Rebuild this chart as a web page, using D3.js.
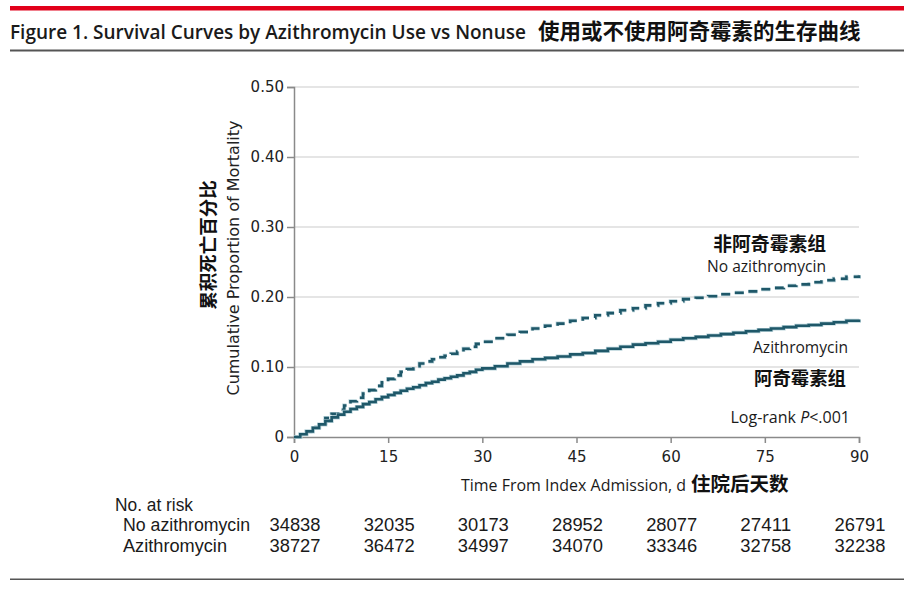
<!DOCTYPE html>
<html>
<head>
<meta charset="utf-8">
<script src="https://cdn.jsdelivr.net/npm/d3@7"></script>
<style>
  html, body { margin: 0; padding: 0; background: #fff; }
  svg { display: block; }
  .cond { font-family: "Open Sans", "DejaVu Sans", sans-serif; }
  .table { font-family: "Liberation Sans", Arial, sans-serif; }
  .cjk { font-family: "Noto Sans CJK SC", sans-serif; font-weight: 700; }
  .tick text { font-family: "DejaVu Sans", sans-serif; }
</style>
</head>
<body>
<svg id="chart" width="914" height="591"></svg>
<script>
// Days at which the curves are read (daily to day 30, then every 2 days)
const days = [0, 1, 2, 3, 4, 5, 6, 7, 8, 9, 10, 11, 12, 13, 14, 15, 16, 17, 18, 19, 20, 21, 22, 23, 24,
  25, 26, 27, 28, 29, 30, 32, 34, 36, 38, 40, 42, 44, 46, 48, 50, 52, 54, 56, 58, 60, 62, 64, 66, 68,
  70, 72, 74, 76, 78, 80, 82, 84, 86, 88, 90];

// Cumulative proportion of mortality, no azithromycin (dashed)
const noAzithro = [0, 0.003, 0.008, 0.014, 0.020, 0.027, 0.033, 0.039, 0.045, 0.051, 0.056, 0.062,
  0.067, 0.073, 0.078, 0.083, 0.088, 0.093, 0.097, 0.101, 0.105, 0.108, 0.111, 0.114, 0.116, 0.119,
  0.122, 0.126, 0.129, 0.133, 0.136, 0.141, 0.146, 0.150, 0.155, 0.159, 0.162, 0.166, 0.170, 0.174,
  0.177, 0.181, 0.184, 0.188, 0.191, 0.194, 0.197, 0.199, 0.201, 0.204, 0.206, 0.208, 0.211, 0.213,
  0.216, 0.218, 0.221, 0.224, 0.226, 0.229, 0.231];

// Cumulative proportion of mortality, azithromycin (solid)
const azithro = [0, 0.004, 0.008, 0.013, 0.018, 0.023, 0.028, 0.032, 0.036, 0.040, 0.043, 0.047,
  0.050, 0.054, 0.057, 0.060, 0.063, 0.066, 0.069, 0.071, 0.074, 0.077, 0.079, 0.082, 0.084, 0.086,
  0.088, 0.091, 0.093, 0.096, 0.098, 0.101, 0.105, 0.108, 0.111, 0.113, 0.115, 0.118, 0.120, 0.123,
  0.126, 0.129, 0.132, 0.134, 0.136, 0.139, 0.141, 0.143, 0.145, 0.147, 0.149, 0.151, 0.153, 0.155,
  0.157, 0.159, 0.160, 0.162, 0.164, 0.166, 0.168];

// Axis ticks
const xTicks = [0, 15, 30, 45, 60, 75, 90];
const yTicks = [0, 0.1, 0.2, 0.3, 0.4, 0.5];

// Number at risk table
const riskRows = ['No azithromycin', 'Azithromycin'];
const riskNoAzithro = [34838, 32035, 30173, 28952, 28077, 27411, 26791];
const riskAzithro = [38727, 36472, 34997, 34070, 33346, 32758, 32238];

const curveColor = '#1f5869';
const haloColor = '#b9d3da';

const svg = d3.select('#chart');

// Scales
const x = d3.scaleLinear().domain([0, 90]).range([294, 859]);
const y = d3.scaleLinear().domain([0, 0.5]).range([437, 87]);

// Narrow text: a regular face squeezed to the width measured on the figure
function condText(txt, xPos, yPos, size, len, anchor, cls, parent) {
  const t = (parent || svg).append('text')
    .attr('class', cls || 'cond')
    .attr('x', xPos)
    .attr('y', yPos)
    .attr('font-size', size)
    .attr('text-anchor', anchor || 'start')
    .attr('fill', '#1a1a1a')
    .text(txt);
  if (len) t.attr('textLength', len).attr('lengthAdjust', 'spacingAndGlyphs');
  return t;
}

function cjkText(txt, xPos, yPos, size, anchor) {
  return svg.append('text')
    .attr('class', 'cjk')
    .attr('x', xPos)
    .attr('y', yPos)
    .attr('font-size', size)
    .attr('text-anchor', anchor || 'start')
    .attr('fill', '#111')
    .text(txt);
}

// Header rules and title
svg.append('rect').attr('x', 10).attr('y', 6).attr('width', 894).attr('height', 4.5).attr('fill', '#e2001a');
svg.append('rect').attr('x', 10).attr('y', 49.5).attr('width', 894).attr('height', 2).attr('fill', '#555');
svg.append('rect').attr('x', 10).attr('y', 578.5).attr('width', 894).attr('height', 1.5).attr('fill', '#555');

// title: shrink the font until the English part ends where it does in the figure
const titleEn = condText('Figure 1. Survival Curves by Azithromycin Use vs Nonuse', 10, 39, 21, null)
  .attr('font-weight', 600);
const natural = titleEn.node().getComputedTextLength();
if (natural > 516) titleEn.attr('font-size', 21 * 516 / natural);
cjkText('使用或不使用阿奇霉素的生存曲线', 538, 39, 21.5);

// Gridlines
svg.append('g')
  .selectAll('line')
  .data(yTicks.filter(d => d > 0))
  .enter()
  .append('line')
  .attr('x1', x(0))
  .attr('x2', x(90))
  .attr('y1', d => y(d))
  .attr('y2', d => y(d))
  .attr('stroke', '#dcdcdc')
  .attr('stroke-width', 1.5);

// Y axis
const yAxis = svg.append('g')
  .attr('transform', `translate(${x(0)},0)`)
  .call(d3.axisLeft(y)
    .tickValues(yTicks)
    .tickSize(7)
    .tickPadding(3)
    .tickFormat(d => d === 0 ? '0' : d3.format('.2f')(d)));

// X axis
const xAxis = svg.append('g')
  .attr('transform', `translate(0,${y(0)})`)
  .call(d3.axisBottom(x)
    .tickValues(xTicks)
    .tickSize(6)
    .tickPadding(8));

[yAxis, xAxis].forEach(ax => {
  ax.select('.domain').attr('stroke', '#8a8a8a').attr('stroke-width', 1.5);
  ax.selectAll('.tick line').attr('stroke', '#8a8a8a').attr('stroke-width', 1.5);
  ax.selectAll('.tick text').attr('font-size', 15).attr('fill', '#222');
});

// Axis titles
svg.append('text')
  .attr('class', 'cjk')
  .attr('transform', 'translate(215,245) rotate(-90)')
  .attr('text-anchor', 'middle')
  .attr('font-size', 18.5)
  .attr('fill', '#111')
  .text('累积死亡百分比');

svg.append('text')
  .attr('transform', 'translate(239,258) rotate(-90)')
  .attr('text-anchor', 'middle')
  .attr('font-family', '"DejaVu Sans", sans-serif')
  .attr('font-size', 16)
  .attr('textLength', 275)
  .attr('lengthAdjust', 'spacingAndGlyphs')
  .attr('fill', '#222')
  .text('Cumulative Proportion of Mortality');

condText('Time From Index Admission, d', 686, 491, 17, 225, 'end');
cjkText('住院后天数', 691, 491, 19.5);

// Curves
const line = d3.line()
  .x(d => x(d[0]))
  .y(d => y(d[1]))
  .curve(d3.curveStepAfter);

const series = [
  { values: noAzithro, dash: '9,6' },
  { values: azithro, dash: null }
];

series.forEach(s => {
  const pts = days.map((d, i) => [d, s.values[i]]);
  svg.append('path')
    .datum(pts)
    .attr('d', line)
    .attr('fill', 'none')
    .attr('stroke', haloColor)
    .attr('stroke-width', 4)
    .attr('stroke-dasharray', s.dash);
  svg.append('path')
    .datum(pts)
    .attr('d', line)
    .attr('fill', 'none')
    .attr('stroke', curveColor)
    .attr('stroke-width', 2.6)
    .attr('stroke-dasharray', s.dash);
});

// Curve labels
cjkText('非阿奇霉素组', 826, 251, 18.8, 'end');
condText('No azithromycin', 826, 272, 16.5, 119, 'end');
condText('Azithromycin', 848, 353, 16.5, 95, 'end');
cjkText('阿奇霉素组', 846, 385, 18.4, 'end');

// one text, no squeezing, so the italic P keeps its place
const logrank = condText('', 850, 423, 16, null, 'end');
logrank.append('tspan').text('Log-rank ');
logrank.append('tspan').attr('font-style', 'italic').text('P');
logrank.append('tspan').text('<.001');

// Number at risk table
condText('No. at risk', 115, 511, 17.5, 78, 'start', 'table');

const riskData = [riskNoAzithro, riskAzithro];
riskRows.forEach((name, r) => {
  const rowY = 531 + r * 21;
  condText(name, 123, rowY, 17.5, name === 'Azithromycin' ? 104 : 127, 'start', 'table');
  const g = svg.append('g');
  riskData[r].forEach((v, i) => {
    condText(String(v), x(xTicks[i]) + 1, rowY, 17.5, 51, 'middle', 'table', g);
  });
});
</script>
</body>
</html>
